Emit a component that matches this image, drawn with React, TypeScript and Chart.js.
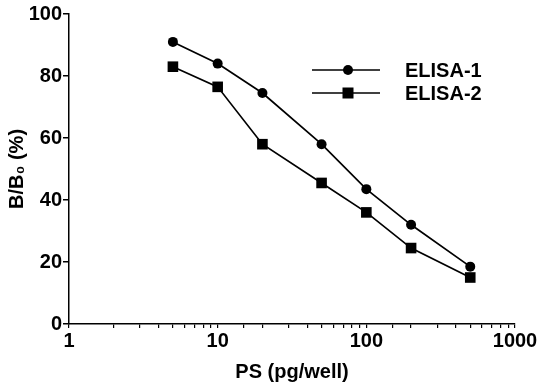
import React, { useEffect, useRef } from "react";
import { Chart, registerables } from "chart.js";

Chart.register(...registerables);

// Data
const concentrations = [5, 10, 20, 50, 100, 200, 500];
const elisa1 = [91, 84, 74.5, 58, 43.5, 32, 18.5];
const elisa2 = [83, 76.5, 58, 45.5, 36, 24.5, 15];
const seriesLabels = ["ELISA-1", "ELISA-2"];
const seriesMarkers = ["circle", "rect"];
const xLabelledTicks = [1, 10, 100, 1000];
const yRange = [0, 100];
const xRange = [1, 1000];
const xTitle = "PS (pg/well)";
const yTitle = "B/B\u2080 (%)";

const FONT = '"Liberation Sans", Arial, Helvetica, sans-serif';

const legendPlugin = {
  id: "lineMarkerLegend",
  afterDraw(chart: any) {
    const ctx = chart.ctx;
    chart.data.datasets.forEach((ds: any, i: number) => {
      const y = 70 + i * 23;
      const x0 = 312;
      const x1 = 380;
      const mx = 348;
      ctx.save();
      ctx.strokeStyle = "#000";
      ctx.fillStyle = "#000";
      ctx.lineWidth = 1.5;
      ctx.beginPath();
      ctx.moveTo(x0, y);
      ctx.lineTo(x1, y);
      ctx.stroke();
      if (ds.pointStyle === "circle") {
        ctx.beginPath();
        ctx.arc(mx, y, 5, 0, Math.PI * 2);
        ctx.fill();
      } else {
        ctx.fillRect(mx - 5.5, y - 5.5, 11, 11);
      }
      ctx.font = `bold 20px ${FONT}`;
      ctx.textBaseline = "middle";
      ctx.textAlign = "left";
      ctx.fillText(ds.label, 405, y + 1);
      ctx.restore();
    });
  },
};

export default function App() {
  const canvasRef = useRef<HTMLCanvasElement | null>(null);

  useEffect(() => {
    if (!canvasRef.current) return;
    const makeData = (vals: number[]) =>
      concentrations.map((c, i) => ({ x: c, y: vals[i] }));
    const chart = new Chart(canvasRef.current, {
      type: "line",
      data: {
        datasets: [
          {
            label: seriesLabels[0],
            data: makeData(elisa1),
            borderColor: "#000",
            backgroundColor: "#000",
            borderWidth: 1.7,
            pointStyle: seriesMarkers[0] as any,
            pointRadius: 5,
            pointBorderWidth: 0,
            tension: 0,
          },
          {
            label: seriesLabels[1],
            data: makeData(elisa2),
            borderColor: "#000",
            backgroundColor: "#000",
            borderWidth: 1.7,
            pointStyle: seriesMarkers[1] as any,
            pointRadius: 7.5,
            pointBorderWidth: 0,
            tension: 0,
          },
        ],
      },
      options: {
        responsive: false,
        animation: false,
        devicePixelRatio: 1,
        layout: { padding: { top: 14, right: 26, left: 0, bottom: 0 } },
        plugins: {
          legend: { display: false },
          tooltip: { enabled: false },
        },
        scales: {
          x: {
            type: "logarithmic",
            min: xRange[0],
            max: xRange[1],
            border: { display: true, color: "#000", width: 1.5 },
            grid: {
              drawOnChartArea: false,
              drawTicks: true,
              tickLength: 4,
              color: "#000",
              lineWidth: 1.2,
            },
            ticks: {
              autoSkip: false,
              maxRotation: 0,
              minRotation: 0,
              padding: 1,
              color: "#000",
              font: { family: FONT, size: 20, weight: "bold" },
              callback: (v: any) =>
                xLabelledTicks.includes(Number(v)) ? String(v) : "",
            },
            title: {
              display: true,
              text: xTitle,
              color: "#000",
              font: { family: FONT, size: 20, weight: "bold" },
              padding: { top: 0, bottom: 0 },
            },
            afterFit: (scale: any) => {
              scale.height = 60;
            },
          },
          y: {
            type: "linear",
            min: yRange[0],
            max: yRange[1],
            border: { display: true, color: "#000", width: 1.5 },
            grid: {
              drawOnChartArea: false,
              drawTicks: true,
              tickLength: 6,
              color: "#000",
              lineWidth: 1.5,
            },
            ticks: {
              stepSize: 20,
              padding: 1,
              color: "#000",
              font: { family: FONT, size: 20, weight: "bold" },
            },
            title: {
              display: true,
              text: yTitle,
              color: "#000",
              font: { family: FONT, size: 20, weight: "bold" },
              padding: { top: 5, bottom: 0 },
            },
            afterFit: (scale: any) => {
              scale.width = 69;
            },
          },
        },
      },
      plugins: [legendPlugin],
    });
    return () => chart.destroy();
  }, []);

  return (
    <div
      style={{
        position: "fixed",
        left: 0,
        top: 0,
        width: 541,
        height: 384,
        background: "#fff",
      }}
    >
      <canvas ref={canvasRef} width={541} height={384} />
    </div>
  );
}
